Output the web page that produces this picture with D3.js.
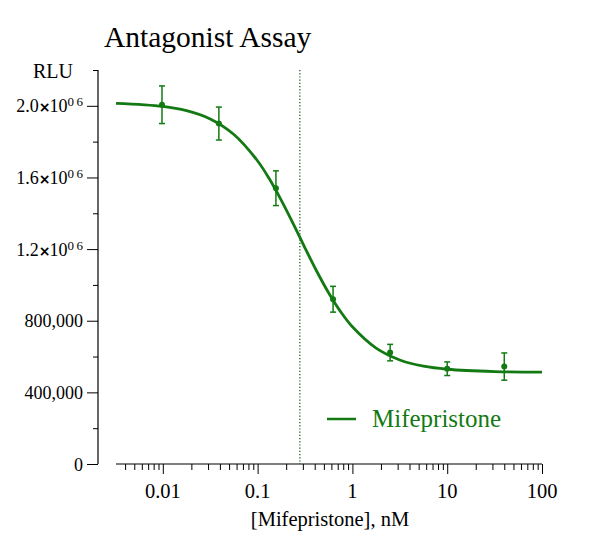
<!DOCTYPE html>
<html><head><meta charset="utf-8">
<script src="https://cdn.jsdelivr.net/npm/d3@7"></script>
<style>
html,body{margin:0;padding:0;background:#fff;}
text{font-family:"Liberation Serif","Times New Roman",serif;}
</style></head>
<body><svg id="c" width="611" height="549"></svg>
<script>
// ---- data ----
const conc = [0.0098, 0.039, 0.156, 0.625, 2.5, 10, 40];
const rlu = [2006000, 1901000, 1540000, 920000, 622000, 532000, 544000];
const sem = [105000, 92000, 97000, 72000, 46000, 38000, 76000];
// fitted curve: [log10 conc, RLU]
const curveLogX = [-2.494, -2.0, -1.75, -1.5, -1.25, -1.0, -0.875, -0.75, -0.625, -0.5, -0.375, -0.25, -0.125, 0.0, 0.25, 0.5, 0.75, 1.0, 1.5, 2.0];
const curveY = [2014000, 1997000, 1973000, 1927000, 1840000, 1692000, 1591000, 1472000, 1342000, 1206000, 1075000, 955000, 851000, 766000, 647000, 581000, 546000, 529000, 516000, 513000];
const ic50 = 0.279;
const yTicks = [0, 400000, 800000, 1200000, 1600000, 2000000];
const yMinor = [200000, 600000, 1000000, 1400000, 1800000, 2200000];
const yLabels = ["0", "400,000", "800,000", "1.2|0 6", "1.6|0 6", "2.0|0 6"];
const xTicks = [0.01, 0.1, 1, 10, 100];
const xLabels = ["0.01", "0.1", "1", "10", "100"];
const seriesName = "Mifepristone";
const title = "Antagonist Assay";
const yTitle = "RLU";
const xTitle = "[Mifepristone], nM";

const green = "#137a13";
const svg = d3.select("#c");

const x = d3.scaleLog().domain([Math.pow(10, -2.494), 100]).range([116, 542]);
const y = d3.scaleLinear().domain([0, 2200000]).range([464, 70]);

// title
svg.append("text").attr("x", 104).attr("y", 47).attr("font-size", 29.5).attr("fill", "#000").text(title);
svg.append("text").attr("x", 33).attr("y", 78).attr("font-size", 20).attr("fill", "#000").text(yTitle);

// y axis
const ya = svg.append("g").attr("transform", "translate(98,0)");
ya.call(d3.axisLeft(y).tickValues(yTicks).tickSize(11).tickPadding(4).tickFormat(""));
ya.select(".domain").attr("d", `M0,${y(2200000)}V${y(0)}`);
ya.selectAll(".tick line").attr("stroke", "#000").attr("stroke-width", 1);
const ym = svg.append("g").attr("transform", "translate(98,0)");
ym.call(d3.axisLeft(y).tickValues(yMinor).tickSize(5).tickFormat(""));
ym.select(".domain").remove();
ya.select(".domain").attr("stroke", "#000").attr("stroke-width", 1.2);

// y labels
yTicks.forEach((v, i) => {
  const lab = yLabels[i];
  const t = svg.append("text").attr("x", 83).attr("y", y(v) + 6.5).attr("text-anchor", "end")
    .attr("font-size", 18).attr("fill", "#000");
  if (lab.includes("|")) {
    const [m, e] = lab.split("|");
    t.append("tspan").text(m);
    t.append("tspan").attr("font-weight", "bold").attr("font-family", "DejaVu Sans").attr("font-size", 14).text("\u00d7");
    t.append("tspan").attr("dx", -1).text("10");
    t.append("tspan").attr("font-size", 13).attr("dy", -6).text(e.replace(" ", "\u2009"));
  } else {
    t.text(lab);
  }
});

// x axis
const xa = svg.append("g").attr("transform", "translate(0,464)");
xa.call(d3.axisBottom(x).tickValues(xTicks).tickSize(10).tickFormat(""));
xa.select(".domain").attr("d", `M${x.range()[0]},0H${x.range()[1]}`).attr("stroke", "#000").attr("stroke-width", 1.2);
const minorX = [];
[0.001, 0.01, 0.1, 1, 10].forEach(d => { for (let k = 2; k <= 9; k++) { const v = d * k; if (v >= x.domain()[0] && v <= 100) minorX.push(v); } });
const xm = svg.append("g").attr("transform", "translate(0,464)");
xm.call(d3.axisBottom(x).tickValues(minorX).tickSize(6).tickFormat(""));
xm.select(".domain").remove();
xTicks.forEach((v, i) => {
  svg.append("text").attr("x", x(v)).attr("y", 498).attr("text-anchor", "middle").attr("font-size", 20.5).attr("fill", "#000").text(xLabels[i]);
});
svg.append("text").attr("x", 330).attr("y", 526).attr("text-anchor", "middle").attr("font-size", 20.5).attr("fill", "#000").text(xTitle);

// IC50 dotted line
svg.append("line").attr("x1", x(ic50)).attr("x2", x(ic50)).attr("y1", y(2200000)).attr("y2", y(0))
  .attr("stroke", "#124a12").attr("stroke-width", 1.2).attr("stroke-dasharray", "1.2,2");

// curve
const pts = curveLogX.map((lx, i) => [x(Math.pow(10, lx)), y(curveY[i])]);
svg.append("path").attr("d", d3.line().curve(d3.curveCatmullRom)(pts))
  .attr("fill", "none").attr("stroke", green).attr("stroke-width", 2.8);

// error bars and points
const g = svg.append("g");
conc.forEach((c, i) => {
  const cx = x(c), y1 = y(rlu[i] + sem[i]), y2 = y(rlu[i] - sem[i]);
  g.append("line").attr("x1", cx).attr("x2", cx).attr("y1", y1).attr("y2", y2).attr("stroke", green).attr("stroke-width", 1.5);
  g.append("line").attr("x1", cx - 3).attr("x2", cx + 3).attr("y1", y1).attr("y2", y1).attr("stroke", green).attr("stroke-width", 1.5);
  g.append("line").attr("x1", cx - 3).attr("x2", cx + 3).attr("y1", y2).attr("y2", y2).attr("stroke", green).attr("stroke-width", 1.5);
  g.append("circle").attr("cx", cx).attr("cy", y(rlu[i])).attr("r", 3).attr("fill", green);
});

// legend
svg.append("line").attr("x1", 327).attr("x2", 356).attr("y1", 419).attr("y2", 419).attr("stroke", green).attr("stroke-width", 2.5);
svg.append("text").attr("x", 372).attr("y", 427).attr("font-size", 25).attr("fill", green).text(seriesName);
</script></body></html>
